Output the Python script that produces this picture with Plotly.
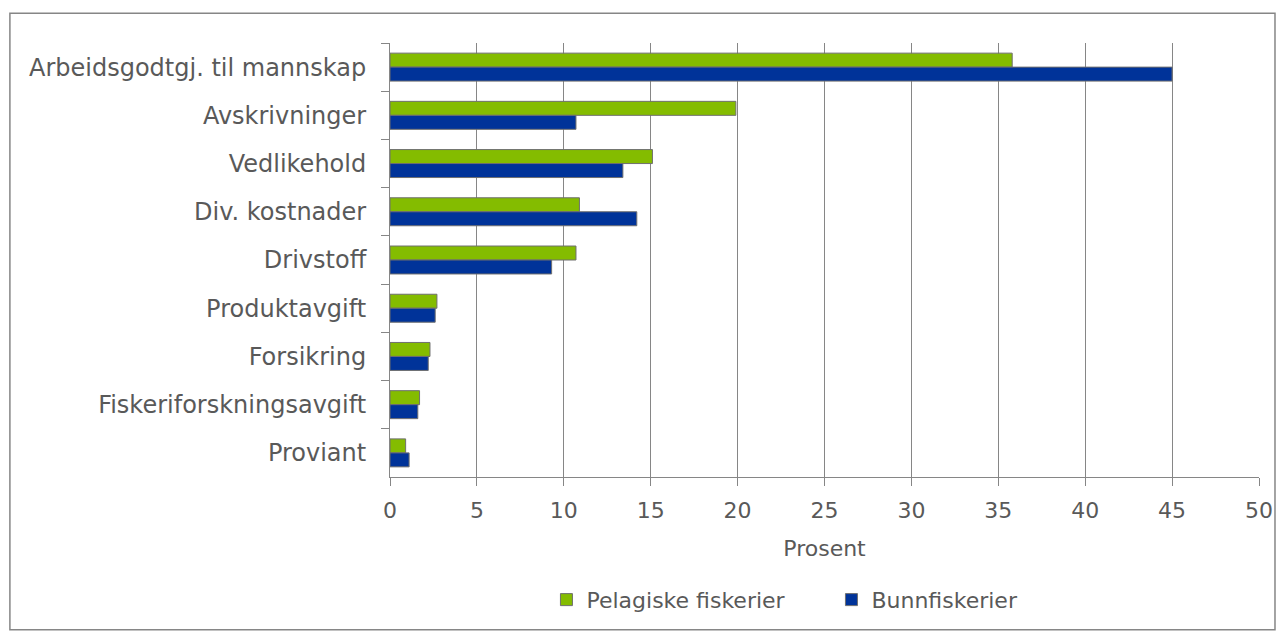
import plotly.graph_objects as go

# Kostnadsposter, i prosent av totale kostnader
categories = ["Arbeidsgodtgj. til mannskap", "Avskrivninger", "Vedlikehold",
              "Div. kostnader", "Drivstoff", "Produktavgift", "Forsikring",
              "Fiskeriforskningsavgift", "Proviant"]
pelagiske = [35.8, 19.9, 15.1, 10.9, 10.7, 2.7, 2.3, 1.7, 0.9]
bunnfiskerier = [45.0, 10.7, 13.4, 14.2, 9.3, 2.6, 2.2, 1.6, 1.1]
x_ticks = [0, 5, 10, 15, 20, 25, 30, 35, 40, 45, 50]

text_col = "#595959"
grid_col = "#868686"

fig = go.Figure()
fig.add_trace(go.Bar(
    y=categories, x=pelagiske, orientation="h", name="Pelagiske fiskerier",
    marker=dict(color="#84bc00", line=dict(color="#6f6f6f", width=1))
))
fig.add_trace(go.Bar(
    y=categories, x=bunnfiskerier, orientation="h", name="Bunnfiskerier",
    marker=dict(color="#003399", line=dict(color="#6f6f6f", width=1))
))

# page body has an 8px margin, so the figure is a bit smaller than the window
fig.update_layout(
    width=1277, height=629,
    margin=dict(l=382, r=24, t=35, b=160),
    paper_bgcolor="white", plot_bgcolor="white",
    font=dict(family="DejaVu Sans", size=22, color=text_col),
    barmode="group", bargap=0.42, bargroupgap=0,
    showlegend=True,
    legend=dict(orientation="h", x=0.508, xanchor="center", y=-0.283, yanchor="middle",
                font=dict(size=22, color=text_col), itemwidth=30,
                entrywidth=240, entrywidthmode="pixels",
                traceorder="normal"),
    xaxis=dict(
        range=[0, 50], tickvals=x_ticks, showgrid=True, gridcolor=grid_col, gridwidth=1,
        showline=True, linecolor=grid_col, linewidth=1, mirror=False,
        ticks="outside", ticklen=8, tickcolor=grid_col, zeroline=False,
        ticklabelstandoff=6,
        title=dict(text="Prosent", font=dict(size=22, color=text_col), standoff=18),
        tickfont=dict(size=22, color=text_col),
    ),
    yaxis=dict(
        autorange="reversed", showgrid=False, showline=True, linecolor=grid_col, linewidth=1,
        ticks="outside", ticklen=8, tickcolor=grid_col, tickson="boundaries",
        ticklabelstandoff=18,
        tickfont=dict(size=24, color=text_col),
    ),
    shapes=[dict(type="rect", xref="paper", yref="paper",
                 x0=-0.4374, x1=1.0184, y0=-0.352, y1=1.0684,
                 line=dict(color="#868686", width=1.5), fillcolor="rgba(0,0,0,0)")],
)

fig.write_html("out.html")
